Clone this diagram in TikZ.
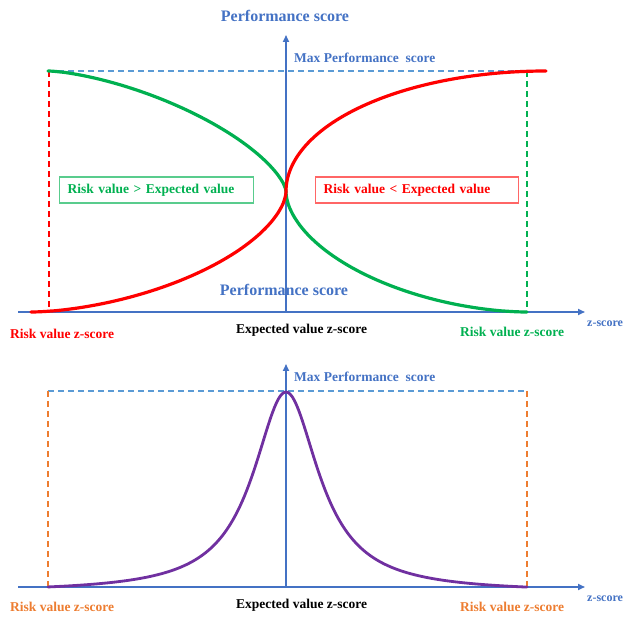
\documentclass[tikz,border=0pt]{standalone}
\usepackage{fontspec}
\setmainfont{Liberation Serif}
\usetikzlibrary{arrows.meta}

\definecolor{axisblue}{HTML}{4472C4}
\definecolor{maxblue}{HTML}{5B9BD5}
\definecolor{riskred}{HTML}{FF0000}
\definecolor{riskgreen}{HTML}{00B050}
\definecolor{riskorange}{HTML}{ED7D31}
\definecolor{bellpurple}{HTML}{7030A0}

\tikzset{
  axisline/.style={draw=axisblue, line width=1.6pt, -{Triangle[length=7pt,width=6pt]}},
  guide/.style={dash pattern=on 6pt off 4pt, line width=1.3pt},
  lbl/.style={font=\bfseries\fontsize{13.5}{16}\selectfont, inner sep=0pt},
  zlbl/.style={font=\bfseries\fontsize{12}{14}\selectfont, inner sep=0pt, text=axisblue},
  heading/.style={font=\bfseries\fontsize{16}{19}\selectfont, text=axisblue, inner sep=0pt},
  curve/.style={line width=3.2pt, line join=round, line cap=round},
  regionbox/.style={lbl, draw, line width=1.2pt, inner xsep=8pt, inner ysep=0pt,
    minimum height=26pt, align=left},
}

\begin{document}
\begin{tikzpicture}[x=1pt, y=-1pt]
\useasboundingbox (0,0) rectangle (625,617);

% ---------- upper chart ----------
\coordinate (xa0) at (18,312);
\coordinate (xa1) at (585,312);
\coordinate (ya0) at (286,312);
\coordinate (ya1) at (286,35);
\coordinate (maxL) at (48,71);
\coordinate (maxR) at (546,71);
\coordinate (redTop) at (49,71);
\coordinate (redBot) at (49,312);
\coordinate (grnTop) at (527,71);
\coordinate (grnBot) at (527,312);

\draw[guide, maxblue] (maxL) -- (maxR);
\draw[guide, riskred] (redTop) -- (redBot);
\draw[guide, riskgreen] (grnTop) -- (grnBot);

\node[heading, anchor=base] (ttl) at (285,22) {Performance score};
\node[heading, anchor=base] (ptop) at (284,296) {Performance score};
\node[lbl, text=axisblue, anchor=base west] (maxtxt) at (294,63) {Max Performance\ \ score};

\draw[axisline] (xa0) -- (xa1);
\draw[axisline] (ya0) -- (ya1);

% green: high score on the left, falling to zero on the right
\draw[curve, riskgreen] (48,71)
  -- plot[domain=89.5:0.5, samples=90, variable=\t]
     ({286-238*(1-pow(cos(\t),1.3333))}, {71+120.5*(1-pow(sin(\t),1.3333))})
  -- (286,191.5)
  -- plot[domain=0.5:89.5, samples=90, variable=\t]
     ({286+241*(1-pow(cos(\t),1.1111))}, {312-120.5*(1-pow(sin(\t),1.1111))})
  -- (527,312);

% red: low score on the left, rising to the maximum on the right
\draw[curve, riskred] (31,312)
  -- plot[domain=89.5:0.5, samples=90, variable=\t]
     ({286-255*(1-pow(cos(\t),1.1765))}, {312-120.5*(1-pow(sin(\t),1.1765))})
  -- (286,191.5)
  -- plot[domain=0.5:89.5, samples=90, variable=\t]
     ({286+260*(1-cos(\t))}, {71+120.5*(1-sin(\t))})
  -- (546,71);

\node[regionbox, draw=riskgreen!65, text=riskgreen, text width=178pt, anchor=west]
  (gbox) at (59,190) {Risk value > Expected value};
\node[regionbox, draw=riskred!60, text=riskred, text width=187pt, anchor=west]
  (rbox) at (315,190) {Risk value < Expected value};

\node[lbl, text=riskred, anchor=base west] (rz1) at (10,339) {Risk value z-score};
\node[lbl, anchor=base west] (ez1) at (236,334) {Expected value z-score};
\node[lbl, text=riskgreen, anchor=base west] (gz1) at (460,337) {Risk value z-score};
\node[zlbl, anchor=base west] (zs1) at (587,327) {z-score};

% ---------- lower chart ----------
\coordinate (xb0) at (18,587);
\coordinate (xb1) at (585,587);
\coordinate (yb0) at (286,587);
\coordinate (yb1) at (286,364);
\coordinate (mbL) at (48,391);
\coordinate (mbR) at (527,391);
\coordinate (obL) at (48,587);
\coordinate (obR) at (527,587);

\draw[guide, maxblue] (mbL) -- (mbR);
\draw[guide, riskorange] (mbL) -- (obL);
\draw[guide, riskorange] (mbR) -- (obR);

\node[lbl, text=axisblue, anchor=base west] (maxtxt2) at (294,382) {Max Performance\ \ score};

\draw[axisline] (xb0) -- (xb1);
\draw[axisline] (yb0) -- (yb1);

% bell-shaped (Cauchy) performance curve
\draw[curve, bellpurple, line width=2.8pt]
  plot[domain=48:527, samples=240, variable=\x]
  (\x, {587-195*((1/(1+((\x-286)/40)^2))-0.02725)/0.97275});

\node[lbl, text=riskorange, anchor=base west] (rz2) at (10,612) {Risk value z-score};
\node[lbl, anchor=base west] (ez2) at (236,609) {Expected value z-score};
\node[lbl, text=riskorange, anchor=base west] (gz2) at (460,612) {Risk value z-score};
\node[zlbl, anchor=base west] (zs2) at (587,602) {z-score};

\end{tikzpicture}
\end{document}
